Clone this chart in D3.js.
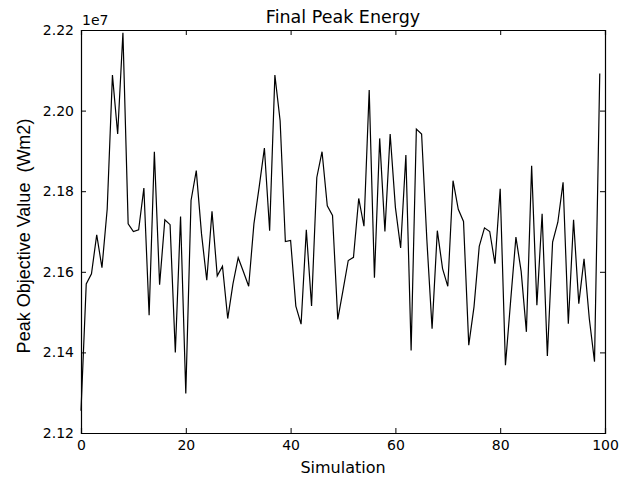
<!DOCTYPE html>
<html>
<head>
<meta charset="utf-8">
<script src="https://cdn.jsdelivr.net/npm/d3@7"></script>
<style>
body{margin:0;background:#fff;}
svg{display:block;}
</style>
</head>
<body>
<div id="chart"></div>
<script>
// peak energy per simulation, in units of 1e7
var simulations = d3.range(0, 100);
var peakValues = [
	2.1255, 2.1570, 2.1595, 2.1692, 2.1610, 2.1756, 2.2088, 2.1942, 2.2193, 2.1719,
	2.1700, 2.1704, 2.1808, 2.1492, 2.1898, 2.1568, 2.1729, 2.1717, 2.1400, 2.1737,
	2.1298, 2.1777, 2.1851, 2.1694, 2.1579, 2.1750, 2.1590, 2.1614, 2.1484, 2.1570,
	2.1635, 2.1600, 2.1564, 2.1719, 2.1810, 2.1907, 2.1702, 2.2088, 2.1975, 2.1675,
	2.1678, 2.1515, 2.1470, 2.1704, 2.1515, 2.1834, 2.1898, 2.1764, 2.1740, 2.1482,
	2.1554, 2.1628, 2.1636, 2.1782, 2.1713, 2.2051, 2.1585, 2.1931, 2.1700, 2.1942,
	2.1760, 2.1659, 2.1890, 2.1405, 2.1954, 2.1942, 2.1680, 2.1459, 2.1702, 2.1608,
	2.1564, 2.1826, 2.1755, 2.1725, 2.1418, 2.1513, 2.1663, 2.1709, 2.1700, 2.1620,
	2.1806, 2.1368, 2.1529, 2.1686, 2.1601, 2.1451, 2.1863, 2.1517, 2.1744, 2.1391,
	2.1674, 2.1723, 2.1822, 2.1471, 2.1729, 2.1521, 2.1632, 2.1484, 2.1377, 2.2092
];
var xTicks = [0, 20, 40, 60, 80, 100];
var yTicks = [2.12, 2.14, 2.16, 2.18, 2.20, 2.22];

var width = 629, height = 479;
var margin = {left: 81, right: 24, top: 30, bottom: 46};

var svg = d3.select("#chart").append("svg")
	.attr("width", width)
	.attr("height", height);

var x = d3.scaleLinear().domain([0, 100]).range([margin.left, width - margin.right]);
var y = d3.scaleLinear().domain([2.12, 2.22]).range([height - margin.bottom, margin.top]);

var tickFont = "'DejaVu Sans', sans-serif";

// axes, matplotlib classic style: ticks pointing inward on all four sides
var axisB = svg.append("g")
	.attr("transform", "translate(0," + y(2.12) + ")")
	.call(d3.axisBottom(x).tickValues(xTicks).tickSize(-5).tickPadding(7).tickFormat(d3.format("d")));
var axisT = svg.append("g")
	.attr("transform", "translate(0," + y(2.22) + ")")
	.call(d3.axisTop(x).tickValues(xTicks).tickSize(-5).tickFormat(""));
var axisL = svg.append("g")
	.attr("transform", "translate(" + x(0) + ",0)")
	.call(d3.axisLeft(y).tickValues(yTicks).tickSize(-5).tickPadding(7).tickFormat(d3.format(".2f")));
var axisR = svg.append("g")
	.attr("transform", "translate(" + x(100) + ",0)")
	.call(d3.axisRight(y).tickValues(yTicks).tickSize(-5).tickFormat(""));

[axisB, axisT, axisL, axisR].forEach(function(g){
	g.select(".domain").attr("stroke", "#000").attr("stroke-width", 1.2);
	g.selectAll(".tick line").attr("stroke", "#000");
	g.selectAll("text").attr("font-family", tickFont).attr("font-size", "14px").attr("fill", "#000");
});

// the line
var line = d3.line()
	.x(function(d, i){ return x(simulations[i]); })
	.y(function(d){ return y(d); });

svg.append("path")
	.datum(peakValues)
	.attr("fill", "none")
	.attr("stroke", "#000")
	.attr("stroke-width", 1.2)
	.attr("stroke-linejoin", "miter")
	.attr("d", line);

// texts
svg.append("text")
	.attr("x", (x(0) + x(100)) / 2)
	.attr("y", 23)
	.attr("text-anchor", "middle")
	.attr("font-family", tickFont)
	.attr("font-size", "17.5px")
	.text("Final Peak Energy");

svg.append("text")
	.attr("x", x(0) + 1)
	.attr("y", 25)
	.attr("font-family", tickFont)
	.attr("font-size", "14px")
	.text("1e7");

svg.append("text")
	.attr("x", (x(0) + x(100)) / 2)
	.attr("y", 473)
	.attr("text-anchor", "middle")
	.attr("font-family", tickFont)
	.attr("font-size", "16px")
	.text("Simulation");

svg.append("text")
	.attr("transform", "translate(30,236) rotate(-90)")
	.attr("text-anchor", "middle")
	.attr("font-family", "'Liberation Sans', Arial, sans-serif")
	.attr("font-size", "18px")
	.style("white-space", "pre")
	.text("Peak Objective Value  (Wm2)");
</script>
</body>
</html>
